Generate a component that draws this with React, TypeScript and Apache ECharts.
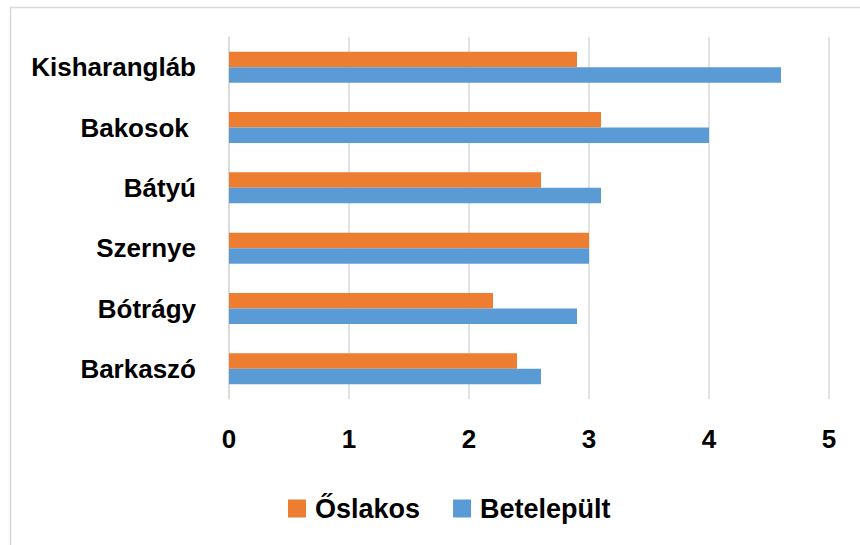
import React, { useEffect, useRef } from "react";
import * as echarts from "echarts";

const categories = ["Barkaszó", "Bótrágy", "Szernye", "Bátyú", "Bakosok ", "Kisharangláb"];
const oslakos = [2.4, 2.2, 3.0, 2.6, 3.1, 2.9];
const betelepult = [2.6, 2.9, 3.0, 3.1, 4.0, 4.6];
const seriesNames = ["Őslakos", "Betelepült"];
const xTicks = { min: 0, max: 5, interval: 1 };

const FONT = "'Liberation Sans', Arial, sans-serif";

export default function App() {
  const ref = useRef<HTMLDivElement>(null);
  useEffect(() => {
    if (!ref.current) return;
    const chart = echarts.init(ref.current, undefined, { renderer: "svg" });
    chart.setOption({
      animation: false,
      backgroundColor: "#ffffff",
      textStyle: { fontFamily: FONT },
      graphic: [
        {
          type: "rect",
          shape: { x: 10.5, y: 7.5, width: 900, height: 600 },
          style: { fill: "none", stroke: "#d9d9d9", lineWidth: 1.5 },
          silent: true,
        },
      ],
      grid: { left: 229, top: 37, width: 600, height: 362, containLabel: false },
      legend: {
        data: seriesNames,
        left: 283,
        top: 490,
        icon: "rect",
        itemWidth: 18,
        itemHeight: 18,
        itemGap: 33,
        textStyle: {
          fontFamily: FONT,
          fontSize: 27,
          fontWeight: "bold",
          color: "#000000",
          padding: [0, 0, 0, 4],
        },
      },
      xAxis: {
        type: "value",
        min: xTicks.min,
        max: xTicks.max,
        interval: xTicks.interval,
        axisLine: { show: false },
        axisTick: { show: false },
        splitLine: { show: true, lineStyle: { color: "#d9d9d9", width: 1.5 } },
        axisLabel: {
          fontFamily: FONT,
          fontSize: 26,
          fontWeight: "bold",
          color: "#000000",
          margin: 27,
        },
      },
      yAxis: {
        type: "category",
        data: categories,
        axisLine: { show: true, lineStyle: { color: "#d9d9d9", width: 1.5 } },
        axisTick: { show: false },
        axisLabel: {
          fontFamily: FONT,
          fontSize: 26,
          fontWeight: "bold",
          color: "#000000",
          margin: 33,
        },
      },
      series: [
        {
          name: seriesNames[0],
          type: "bar",
          data: oslakos,
          barWidth: 15.5,
          barGap: "0%",
          itemStyle: { color: "#ED7D31" },
        },
        {
          name: seriesNames[1],
          type: "bar",
          data: betelepult,
          barWidth: 15.5,
          barGap: "0%",
          itemStyle: { color: "#5B9BD5" },
        },
      ],
    });
    return () => chart.dispose();
  }, []);
  return (
    <div
      ref={ref}
      style={{ position: "absolute", left: 0, top: 0, width: 860, height: 545 }}
    />
  );
}
